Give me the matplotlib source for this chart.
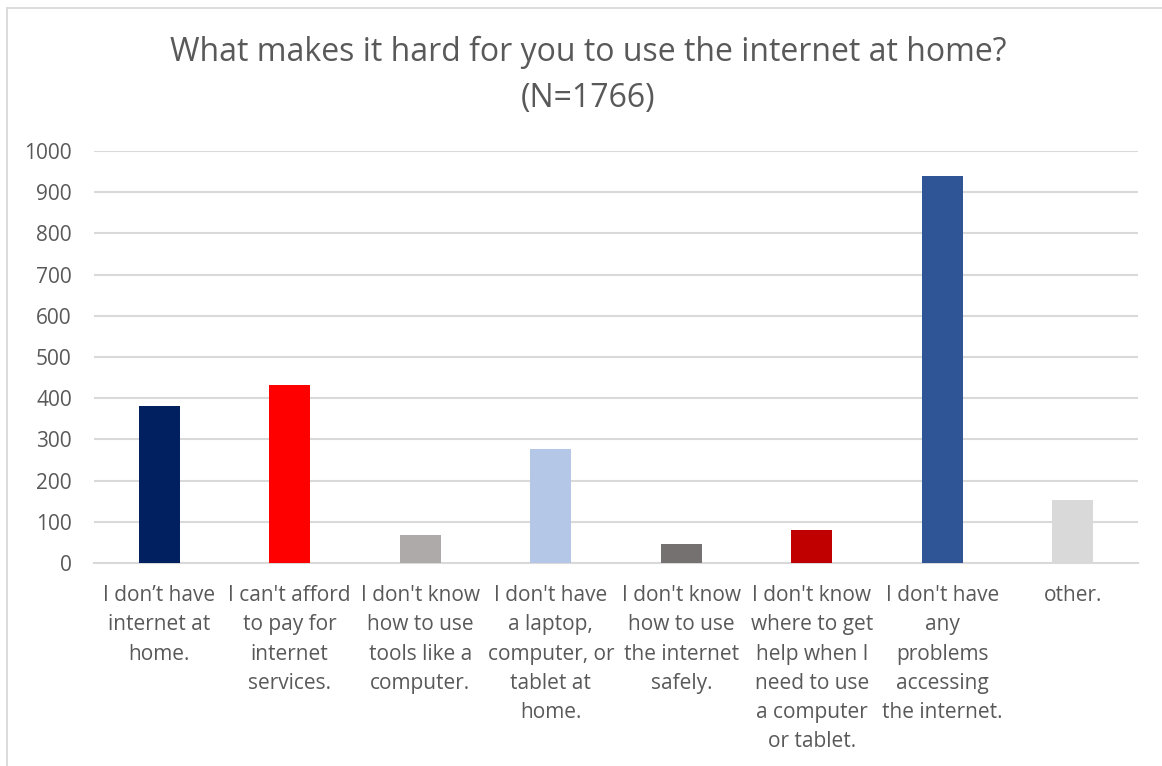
import matplotlib
matplotlib.use("Agg")
import matplotlib.pyplot as plt
from matplotlib.patches import Rectangle

categories = [
    "I don\u2019t have\ninternet at\nhome.",
    "I can't afford\nto pay for\ninternet\nservices.",
    "I don't know\nhow to use\ntools like a\ncomputer.",
    "I don't have\na laptop,\ncomputer, or\ntablet at\nhome.",
    "I don't know\nhow to use\nthe internet\nsafely.",
    "I don't know\nwhere to get\nhelp when I\nneed to use\na computer\nor tablet.",
    "I don't have\nany\nproblems\naccessing\nthe internet.",
    "other.",
]
counts = [380, 431, 68, 276, 46, 80, 939, 153]
bar_colors = ["#002060", "#FF0000", "#AEAAAA", "#B4C7E7",
              "#767171", "#C00000", "#2F5597", "#D9D9D9"]
y_ticks = list(range(0, 1001, 100))
title_lines = ["What makes it hard for you to use the internet at home?", "(N=1766)"]

plt.rcParams["font.family"] = ["Open Sans", "DejaVu Sans"]
text_color = "#595959"
grid_color = "#D9D9D9"

fig = plt.figure(figsize=(11.62, 7.66), dpi=100)
fig.patch.set_facecolor("white")

# chart-area frame
fig.add_artist(Rectangle((7 / 1162, -0.01), 1.02, 1 - 8 / 766 + 0.01,
                         transform=fig.transFigure, fill=False,
                         edgecolor="#D9D9D9", linewidth=1.3))

ax = fig.add_axes([94 / 1162, 1 - 563 / 766, (1138 - 94) / 1162, (563 - 151) / 766])
x = range(len(categories))
ax.bar(x, counts, width=0.315, color=bar_colors, zorder=3)

ax.set_xlim(-0.5, len(categories) - 0.5)
ax.set_ylim(0, 1000)
ax.set_yticks(y_ticks)
ax.set_yticklabels([str(v) for v in y_ticks], fontsize=15, color=text_color)
ax.set_xticks(list(x))
ax.set_xticklabels(categories, fontsize=15, color=text_color,
                   va="top", linespacing=1.515)
ax.tick_params(axis="both", length=0)
ax.tick_params(axis="y", pad=16)
ax.tick_params(axis="x", pad=16)
ax.grid(axis="y", color=grid_color, linewidth=1.5, zorder=0)
for side in ["top", "right", "left"]:
    ax.spines[side].set_visible(False)
ax.spines["bottom"].set_color(grid_color)
ax.spines["bottom"].set_linewidth(1.5)
ax.set_axisbelow(True)

for line, ypix in zip(title_lines, [52, 98]):
    fig.text(588 / 1162, 1 - ypix / 766, line, ha="center", va="center",
             fontsize=23, color=text_color)

fig.savefig("out.png", dpi=100, facecolor="white")
